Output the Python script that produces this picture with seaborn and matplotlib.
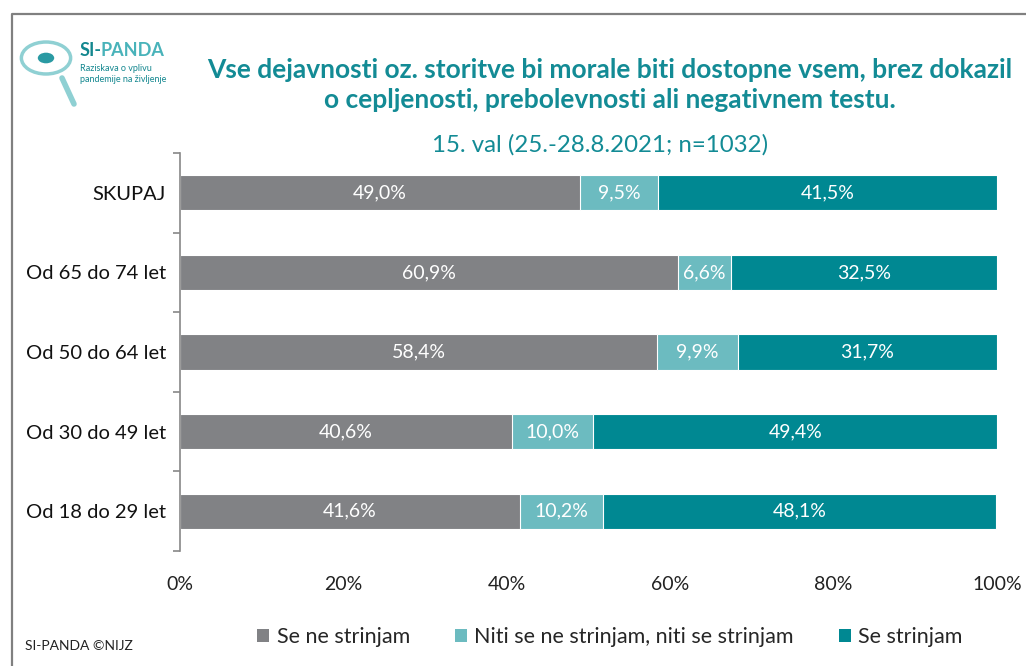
import numpy as np
import pandas as pd
import matplotlib
matplotlib.use("Agg")
import matplotlib.pyplot as plt
import seaborn as sns
from matplotlib.lines import Line2D
from matplotlib.patches import Patch, Circle

# data
groups = ["SKUPAJ", "Od 65 do 74 let", "Od 50 do 64 let", "Od 30 do 49 let", "Od 18 do 29 let"]
se_ne_strinjam = [49.0, 60.9, 58.4, 40.6, 41.6]
niti_niti = [9.5, 6.6, 9.9, 10.0, 10.2]
se_strinjam = [41.5, 32.5, 31.7, 49.4, 48.1]
series_names = ["Se ne strinjam", "Niti se ne strinjam, niti se strinjam", "Se strinjam"]
series_colors = ["#818285", "#6cbbc0", "#008892"]
x_ticks = [0, 20, 40, 60, 80, 100]

title = "Vse dejavnosti oz. storitve bi morale biti dostopne vsem, brez dokazil\no cepljenosti, prebolevnosti ali negativnem testu."
subtitle = "15. val (25.-28.8.2021; n=1032)"

sns.set_theme(style="white")
plt.rcParams["font.family"] = ["Lato", "DejaVu Sans"]

df = pd.DataFrame({
    "group": groups,
    "s1": se_ne_strinjam,
    "s2": niti_niti,
    "s3": se_strinjam,
})
df["c1"] = df["s1"]
df["c2"] = df["s1"] + df["s2"]
df["c3"] = df["c2"] + df["s3"]

fig = plt.figure(figsize=(10.26, 6.66), dpi=100)
ax = fig.add_axes([180 / 1026, 1 - 551 / 666, 817 / 1026, 398 / 666])

# stacked bars by drawing cumulative totals back to front
for col, color in zip(["c3", "c2", "c1"], series_colors[::-1]):
    sns.barplot(data=df, x=col, y="group", order=groups, color=color, orient="h",
                width=0.44, edgecolor="white", linewidth=0.8, saturation=1, ax=ax)

# segment labels
for i, row in df.iterrows():
    lefts = [0, row["c1"], row["c2"]]
    vals = [row["s1"], row["s2"], row["s3"]]
    for left, v in zip(lefts, vals):
        ax.text(left + v / 2, i, f"{v:.1f}%".replace(".", ","), ha="center", va="center",
                color="white", fontsize=14)

ax.set_xlim(0, 100)
ax.set_ylim(len(groups) - 0.5, -0.5)
ax.set_xticks(x_ticks)
ax.set_xticklabels([f"{t}%" for t in x_ticks], fontsize=14, color="#222222")
ax.set_xlabel("")
ax.set_ylabel("")
ax.tick_params(axis="x", length=0, pad=18)
ax.set_yticks(range(len(groups)))
ax.set_yticklabels(groups, fontsize=14.5, color="#111111")
ax.tick_params(axis="y", which="major", length=0, pad=10)
ax.set_yticks(np.arange(-0.5, len(groups), 1), minor=True)
ax.tick_params(axis="y", which="minor", length=5, width=1.2, color="#888888", left=True)
for s in ["top", "right", "bottom"]:
    ax.spines[s].set_visible(False)
ax.spines["left"].set_color("#888888")
ax.spines["left"].set_linewidth(1.2)

# titles
fig.text(610 / 1026, 1 - 85 / 666, title, ha="center", va="center", fontsize=19,
         fontweight="bold", color="#138b95", linespacing=1.32)
fig.text(600 / 1026, 1 - 145 / 666, subtitle, ha="center", va="center", fontsize=17.3,
         color="#138b95")

# legend
handles = [Patch(facecolor=c, edgecolor="none") for c in series_colors]
fig.legend(handles, series_names, loc="center", bbox_to_anchor=(610 / 1026, 1 - 637 / 666),
           ncol=3, frameon=False, fontsize=15.5, handlelength=0.55, handleheight=0.55,
           handletextpad=0.35, columnspacing=2.1)

fig.text(25 / 1026, 1 - 646 / 666, "SI-PANDA ©NIJZ", ha="left", va="center", fontsize=10,
         color="#222222")

# frame lines
fig.add_artist(Line2D([12 / 1026, 12 / 1026, 1], [0, 1 - 14 / 666, 1 - 14 / 666],
                      color="#808080", lw=1.6, transform=fig.transFigure))

# logo
fig.add_artist(Circle((46 / 1026, 1 - 58 / 666), 0.024, transform=fig.transFigure,
                      facecolor="none", edgecolor="#8fd0d3", lw=2.5))
fig.add_artist(Line2D([62 / 1026, 74 / 1026], [1 - 78 / 666, 1 - 104 / 666],
                      color="#8fd0d3", lw=4, transform=fig.transFigure, solid_capstyle="round"))
fig.add_artist(Circle((46 / 1026, 1 - 58 / 666), 0.008, transform=fig.transFigure,
                      facecolor="#2a9aa3", edgecolor="none"))
fig.text(80 / 1026, 1 - 50 / 666, "SI-", ha="left", va="center", fontsize=13,
         fontweight="bold", color="#13878f")
fig.text(101 / 1026, 1 - 50 / 666, "PANDA", ha="left", va="center", fontsize=13,
         fontweight="bold", color="#49b3ba")
fig.text(80 / 1026, 1 - 74 / 666, "Raziskava o vplivu\npandemije na življenje", ha="left",
         va="center", fontsize=6.5, color="#13878f", linespacing=1.3)

fig.savefig("out.png", dpi=100)
